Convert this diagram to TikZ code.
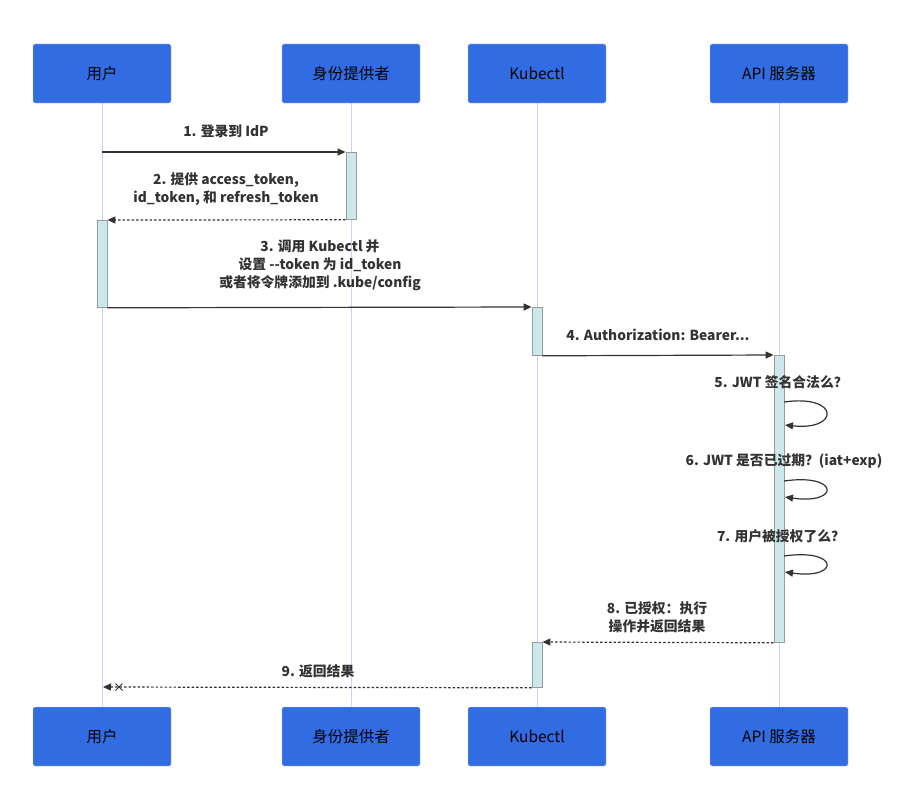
\documentclass[tikz,border=0pt]{standalone}
\usepackage{fontspec}
\setmainfont{Noto Sans CJK SC}
\usetikzlibrary{arrows.meta,calc}
\definecolor{boxblue}{HTML}{316CE2}
\definecolor{boxline}{HTML}{CBC4F2}
\definecolor{lifeline}{HTML}{D8CEF2}
\definecolor{actfill}{HTML}{CCE8EC}
\definecolor{actline}{HTML}{9A9A9A}
\definecolor{msgcol}{HTML}{333333}
\tikzset{
  actor/.style={draw=boxline, fill=boxblue, rounded corners=2pt, minimum width=138pt, minimum height=59pt, inner sep=0pt, font=\fontsize{15.5}{18}\selectfont, text=black},
  life/.style={draw=lifeline, line width=1pt},
  actbox/.style={draw=actline, fill=actfill, line width=0.8pt, minimum width=10pt, inner sep=0pt, anchor=north},
  msg/.style={draw=msgcol, line width=1.2pt, -{Triangle[length=8pt,width=7pt]}},
  reply/.style={msg, dash pattern=on 2.5pt off 2pt},
  lbl/.style={font=\fontsize{13.8}{18}\selectfont\bfseries, text=msgcol, align=center, inner sep=0pt},
}
\begin{document}
\begin{tikzpicture}[x=1pt, y=-1pt]
\useasboundingbox (0,0) rectangle (917,784);
% lifelines
\foreach \x/\n in {102/u, 351/i, 537/k, 779/a} {
  \coordinate (\n top) at (\x,103);
  \coordinate (\n bot) at (\x,707);
  \draw[life] (\n top) -- (\n bot);
}
% actors
\node[actor] (u1) at (102,73.5) {用户};
\node[actor] (i1) at (351,73.5) {身份提供者};
\node[actor] (k1) at (537,73.5) {Kubectl};
\node[actor] (a1) at (779,73.5) {API 服务器};
\node[actor] (u2) at (102,736.5) {用户};
\node[actor] (i2) at (351,736.5) {身份提供者};
\node[actor] (k2) at (537,736.5) {Kubectl};
\node[actor] (a2) at (779,736.5) {API 服务器};
% activations
\node[actbox, minimum height=67pt] (actI) at (351,152) {};
\node[actbox, minimum height=87pt] (actU) at (102,220) {};
\node[actbox, minimum height=48pt] (actK) at (537,307) {};
\node[actbox, minimum height=287pt] (actA) at (779,355) {};
\node[actbox, minimum height=45pt] (actK2) at (537,642) {};
% message 1
\coordinate (m1s) at (102,152);
\draw[msg] (m1s) -- (actI.north west);
\node[lbl] (l1) at (226,131) {1. 登录到 IdP};
% message 2
\draw[reply] (actI.south west) -- (actU.north east);
\node[lbl] (l2) at (226,189) {2. 提供 access\_token,\\id\_token, 和 refresh\_token};
% message 3
\draw[msg] (actU.south east) -- (actK.north west);
\node[lbl] (l3) at (320,265.5) {3. 调用 Kubectl 并\\设置 {-}{-}token 为 id\_token\\或者将令牌添加到 .kube/config};
% message 4
\draw[msg] (actK.south east) -- (actA.north west);
\node[lbl] (l4) at (658,335) {4. Authorization: Bearer...};
% self messages
\foreach \n/\s/\e in {5/402/425, 6/481/497, 7/556/572} {
  \coordinate (s\n a) at (784,\s);
  \coordinate (s\n b) at (785,\e);
}
\draw[msg] (s5a) .. controls (840,394) and (840,431) .. (s5b);
\draw[msg] (s6a) .. controls (840,473) and (840,505) .. (s6b);
\draw[msg] (s7a) .. controls (840,548) and (840,580) .. (s7b);
\node[lbl] (l5) at (781,382) {5. JWT 签名合法么？};
\node[lbl] (l6) at (784,461) {6. JWT 是否已过期？(iat+exp)};
\node[lbl] (l7) at (781,536) {7. 用户被授权了么？};
% message 8
\draw[reply] (actA.south west) -- (actK2.north east);
\node[lbl] (l8) at (657,617) {8. 已授权：执行\\操作并返回结果};
% message 9
\coordinate (u9) at (103,687);
\draw[reply] (actK2.south west) -- (u9);
\coordinate (x9) at (119,687);
\draw[msgcol, line width=1pt] ($(x9)+(-3.5,-3.5)$) -- ($(x9)+(3.5,3.5)$) ($(x9)+(-3.5,3.5)$) -- ($(x9)+(3.5,-3.5)$);
\node[lbl] (l9) at (318,671) {9. 返回结果};
\end{tikzpicture}
\end{document}
